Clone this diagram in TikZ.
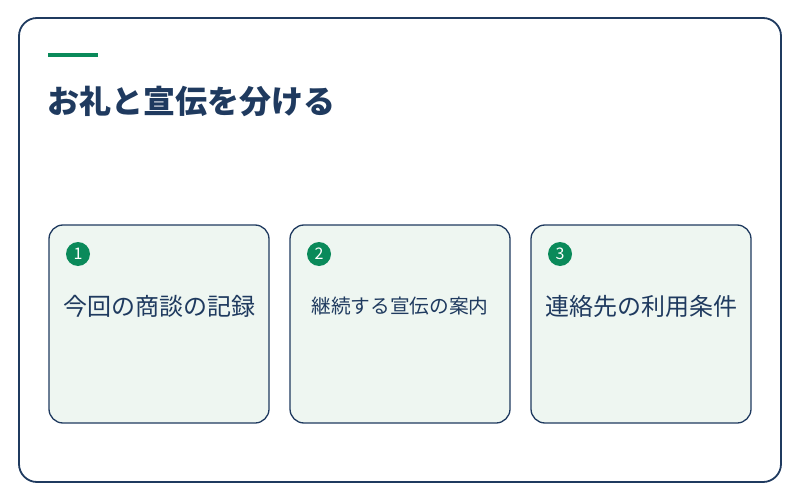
\documentclass[tikz,border=0pt]{standalone}
\usepackage{fontspec}
\newfontfamily\cjk{Noto Sans CJK JP}
\definecolor{navy}{HTML}{1F3A5F}
\definecolor{grn}{HTML}{0A8A5A}
\definecolor{cardbg}{HTML}{EEF6F1}
\begin{document}
\begin{tikzpicture}[x=1pt,y=-1pt,
  card/.style={draw=navy,line width=1.3pt,fill=cardbg,rounded corners=14pt},
  num/.style={circle,fill=grn,minimum size=24pt,inner sep=0pt,text=white,font=\cjk\fontsize{16}{16}\selectfont},
  lbl/.style={text=navy}]
\useasboundingbox (0,0) rectangle (800,500);
\node[draw=navy,line width=1.8pt,rounded corners=18pt,minimum width=762pt,minimum height=464pt,inner sep=0pt] (frame) at (400,250) {};
\draw[grn,line width=4pt] (48,55) coordinate (g1) -- (98,55) coordinate (g2);
\node[lbl,anchor=west,inner sep=0pt,font=\cjk\bfseries\fontsize{32}{32}\selectfont] (title) at (47,101) {お礼と宣伝を分ける};
\foreach \i/\x/\t/\s in {1/49/今回の商談の記録/24,2/290/継続する宣伝の案内/19.7,3/531/連絡先の利用条件/24}{
  \node[card,minimum width=220pt,minimum height=198pt,inner sep=0pt] (c\i) at (\x+110,324) {};
  \node[num] (n\i) at (\x+29,254) {\i};
  \node[lbl,inner sep=0pt,font=\cjk\fontsize{\s}{\s}\selectfont] (t\i) at (\x+110,306) {\t};
}
\end{tikzpicture}
\end{document}
